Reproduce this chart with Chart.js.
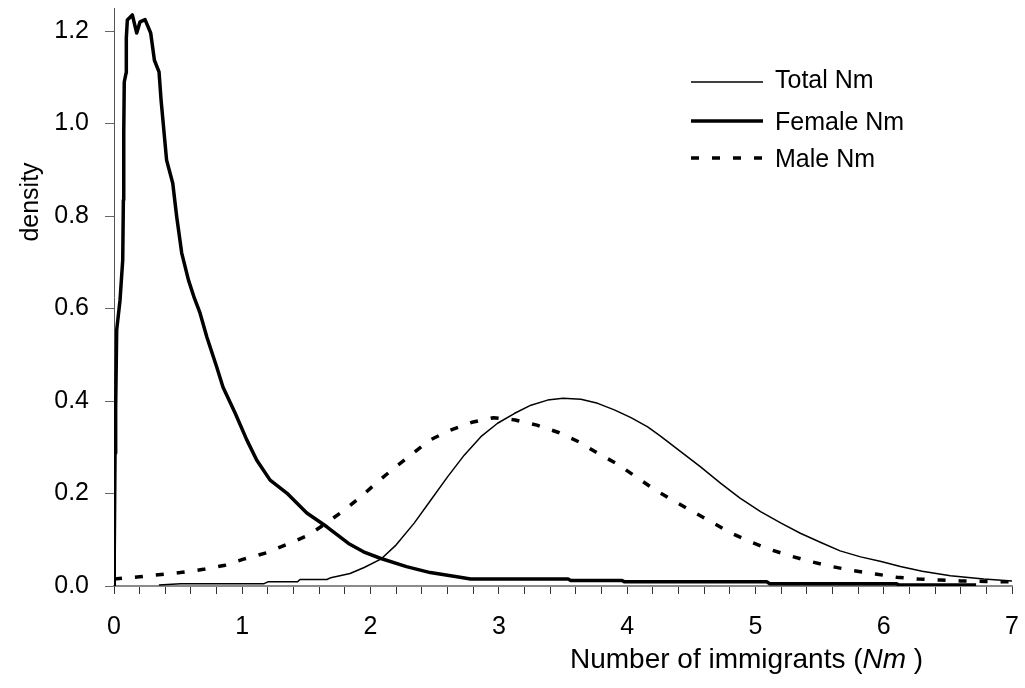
<!DOCTYPE html>
<html>
<head>
<meta charset="utf-8">
<script src="https://cdn.jsdelivr.net/npm/chart.js@4.4.0/dist/chart.umd.min.js"></script>
<style>
  html, body { margin: 0; padding: 0; background: #ffffff; }
  #wrap { width: 1025px; height: 688px; position: relative; }
</style>
</head>
<body>
<div id="wrap"><canvas id="c"></canvas></div>
<script>
// Posterior densities of the number of immigrants per generation (Nm)
const totalX = [0.35, 0.52, 1.17, 1.2, 1.43, 1.45, 1.66, 1.69, 1.84, 1.95, 2.08, 2.2, 2.34, 2.47, 2.6, 2.73, 2.86, 2.99, 3.12, 3.25, 3.38, 3.5, 3.64, 3.77, 3.9, 4.03, 4.16, 4.26, 4.42, 4.57, 4.73, 4.88, 5.04, 5.2, 5.35, 5.51, 5.66, 5.82, 5.98, 6.13, 6.3, 6.52, 6.78, 7.0];
const totalY = [0.002, 0.005, 0.005, 0.009, 0.009, 0.014, 0.014, 0.018, 0.027, 0.04, 0.058, 0.089, 0.136, 0.186, 0.236, 0.283, 0.323, 0.352, 0.373, 0.391, 0.402, 0.406, 0.404, 0.395, 0.381, 0.364, 0.344, 0.324, 0.29, 0.258, 0.222, 0.19, 0.161, 0.136, 0.114, 0.094, 0.076, 0.063, 0.053, 0.042, 0.032, 0.022, 0.015, 0.011];

const femaleX = [0.0, 0.002, 0.008, 0.013, 0.021, 0.047, 0.068, 0.073, 0.076, 0.08, 0.094, 0.096, 0.104, 0.143, 0.177, 0.203, 0.242, 0.286, 0.315, 0.351, 0.367, 0.41, 0.458, 0.489, 0.528, 0.58, 0.626, 0.671, 0.723, 0.8, 0.85, 0.944, 1.035, 1.113, 1.217, 1.347, 1.503, 1.659, 1.828, 1.945, 2.075, 2.28, 2.465, 2.673, 2.78, 3.54, 3.56, 3.96, 3.98, 5.09, 5.11, 6.1, 6.12, 6.72];
const femaleY = [0.0, 0.07, 0.287, 0.387, 0.554, 0.618, 0.705, 0.835, 0.98, 1.09, 1.109, 1.185, 1.224, 1.235, 1.196, 1.22, 1.225, 1.196, 1.137, 1.112, 1.051, 0.921, 0.871, 0.798, 0.72, 0.662, 0.623, 0.59, 0.539, 0.474, 0.43, 0.374, 0.316, 0.272, 0.229, 0.201, 0.158, 0.128, 0.092, 0.074, 0.06, 0.042, 0.029, 0.02, 0.015, 0.015, 0.012, 0.012, 0.009, 0.009, 0.005, 0.005, 0.002, 0.002];

const maleX = [0.0, 0.2, 0.515, 0.697, 0.866, 1.009, 1.19, 1.347, 1.516, 1.659, 1.8, 1.932, 2.062, 2.192, 2.322, 2.465, 2.621, 2.79, 2.959, 3.128, 3.297, 3.466, 3.622, 3.765, 3.916, 4.06, 4.2, 4.345, 4.493, 4.641, 4.792, 4.948, 5.104, 5.26, 5.429, 5.598, 5.767, 5.936, 6.1, 6.27, 6.44, 6.6, 6.8, 7.0];
const maleY = [0.015, 0.02, 0.029, 0.036, 0.045, 0.058, 0.072, 0.09, 0.11, 0.137, 0.165, 0.195, 0.227, 0.257, 0.285, 0.316, 0.337, 0.354, 0.364, 0.359, 0.348, 0.332, 0.312, 0.288, 0.265, 0.238, 0.211, 0.187, 0.164, 0.141, 0.117, 0.097, 0.08, 0.066, 0.053, 0.042, 0.033, 0.026, 0.019, 0.015, 0.013, 0.011, 0.01, 0.009];

const seriesNames = ['Total Nm', 'Female Nm', 'Male Nm'];
const xTitleParts = ['Number of immigrants (', 'Nm', ' )'];
const yTitle = 'density';

const FONT = '"Liberation Sans", Arial, sans-serif';

function pairs(xs, ys) {
  return xs.map((x, i) => ({ x: x, y: ys[i] }));
}

const lineStyles = [
  { width: 1.5, dash: [] },
  { width: 3.5, dash: [] },
  { width: 3.5, dash: [8, 13] }
];

// Legend and axis titles drawn straight onto the canvas
const decorations = {
  id: 'decorations',
  afterDraw(chart) {
    const ctx = chart.ctx;
    ctx.save();
    ctx.fillStyle = '#000';
    ctx.strokeStyle = '#000';

    // legend
    const rowsLine = [82, 121, 158];
    const rowsText = [88, 130, 167];
    ctx.font = '25px ' + FONT;
    ctx.textAlign = 'left';
    ctx.textBaseline = 'alphabetic';
    seriesNames.forEach((name, i) => {
      ctx.beginPath();
      ctx.lineWidth = lineStyles[i].width;
      ctx.setLineDash(lineStyles[i].dash);
      ctx.lineCap = 'butt';
      ctx.moveTo(691, rowsLine[i]);
      ctx.lineTo(763, rowsLine[i]);
      ctx.stroke();
      ctx.setLineDash([]);
      ctx.fillText(name, 775, rowsText[i]);
    });

    // x axis title with italic symbol
    let x = 570;
    const yBase = 668;
    ctx.font = '28px ' + FONT;
    ctx.fillText(xTitleParts[0], x, yBase);
    x += ctx.measureText(xTitleParts[0]).width;
    ctx.font = 'italic 28px ' + FONT;
    ctx.fillText(xTitleParts[1], x, yBase);
    x += ctx.measureText(xTitleParts[1]).width;
    ctx.font = '28px ' + FONT;
    ctx.fillText(xTitleParts[2], x, yBase);

    // y axis title
    ctx.translate(38, 202);
    ctx.rotate(-Math.PI / 2);
    ctx.font = '25px ' + FONT;
    ctx.textAlign = 'center';
    ctx.fillText(yTitle, 0, 0);
    ctx.restore();
  }
};

new Chart(document.getElementById('c'), {
  type: 'line',
  data: {
    datasets: [
      { label: seriesNames[0], data: pairs(totalX, totalY), borderColor: '#000', borderWidth: lineStyles[0].width, borderDash: lineStyles[0].dash },
      { label: seriesNames[1], data: pairs(femaleX, femaleY), borderColor: '#000', borderWidth: lineStyles[1].width, borderDash: lineStyles[1].dash },
      { label: seriesNames[2], data: pairs(maleX, maleY), borderColor: '#000', borderWidth: lineStyles[2].width, borderDash: lineStyles[2].dash }
    ]
  },
  options: {
    responsive: true,
    maintainAspectRatio: false,
    animation: false,
    parsing: true,
    elements: {
      point: { radius: 0, hoverRadius: 0 },
      line: { tension: 0, fill: false, borderCapStyle: 'butt', borderJoinStyle: 'round' }
    },
    layout: { padding: { top: 8, right: 13, left: 0, bottom: 0 } },
    plugins: { legend: { display: false }, tooltip: { enabled: false } },
    scales: {
      x: {
        type: 'linear',
        min: 0,
        max: 7,
        afterFit(s) { s.height = 102; s.paddingLeft = 0; s.paddingRight = 0; },
        border: { display: true, color: '#8a8a8a', width: 2 },
        grid: { drawOnChartArea: false, drawTicks: true, tickLength: 8, color: '#333', lineWidth: 1 },
        ticks: {
          stepSize: 0.2,
          autoSkip: false,
          includeBounds: false,
          maxRotation: 0,
          padding: 18,
          color: '#000',
          font: { family: FONT, size: 25 },
          callback: (v) => Math.abs(v - Math.round(v)) < 1e-6 ? String(Math.round(v)) : ''
        }
      },
      y: {
        type: 'linear',
        min: 0,
        max: 1.25,
        afterFit(s) { s.width = 114; s.paddingTop = 0; s.paddingBottom = 0; },
        border: { display: true, color: '#555', width: 1 },
        grid: { drawOnChartArea: false, drawTicks: true, tickLength: 9, color: '#666', lineWidth: 1 },
        ticks: {
          stepSize: 0.2,
          includeBounds: false,
          padding: 16,
          color: '#000',
          font: { family: FONT, size: 25 },
          callback: (v) => v.toFixed(1)
        }
      }
    }
  },
  plugins: [decorations]
});
</script>
</body>
</html>
